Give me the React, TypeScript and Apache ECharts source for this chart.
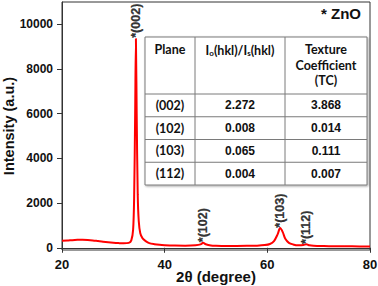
import React, { useEffect, useRef } from "react";
import * as echarts from "echarts";

// XRD pattern (2θ in degrees, intensity in a.u.)
const twoTheta = [
  20, 21, 22, 23, 24, 25, 26, 27, 28, 29, 30, 31, 32, 33, 33.5, 33.85, 34.05, 34.25, 34.4, 34.55,
  34.75, 34.95, 35.25, 35.7, 36.3, 37, 38, 39, 40, 42, 44, 46, 47, 47.5, 48, 49, 50, 52, 54, 56,
  58, 59.5, 60.5, 61.3, 62, 62.5, 63, 63.5, 64.2, 65, 66, 67, 67.6, 68.2, 69, 70, 72, 75, 78, 80,
];
const intensity = [
  310, 320, 340, 355, 360, 350, 330, 300, 270, 245, 225, 210, 200, 220, 330, 800, 2200, 6000, 9360, 6000,
  2400, 1200, 650, 420, 300, 210, 160, 130, 115, 100, 95, 110, 150, 220, 160, 105, 90, 80, 80, 85,
  95, 120, 170, 300, 600, 880, 700, 400, 220, 150, 110, 120, 160, 110, 85, 80, 70, 65, 62, 60,
];

// Peak annotations
const peakLabels = ["*(002)", "*(102)", "*(103)", "*(112)"];
const peakX = [34.4, 47.5, 62.5, 67.6];
const peakY = [9400, 250, 900, 170];

// Axis ticks
const yTicks = [0, 2000, 4000, 6000, 8000, 10000];

// Table
const tablePlanes = ["(002)", "(102)", "(103)", "(112)"];
const tableRatio = ["2.272", "0.008", "0.065", "0.004"];
const tableTC = ["3.868", "0.014", "0.111", "0.007"];

const NUM_FONT = 'bold 12px "Liberation Sans", Arial, sans-serif';
const HEAD_FONT = 'bold 12.5px Lato, "Open Sans", sans-serif';

function buildTable() {
  const left = 145;
  const top = 37;
  const c1 = 195;
  const c2 = 285;
  const right = 367;
  const headH = 57;
  const rowH = 22.75;
  const bottom = top + headH + rowH * tablePlanes.length;
  const stroke = "#7a7a7a";
  const els: any[] = [];
  els.push({
    type: "rect",
    shape: { x: left, y: top, width: right - left, height: bottom - top },
    style: { fill: "#fff", stroke, lineWidth: 1, shadowBlur: 2, shadowColor: "rgba(0,0,0,0.35)", shadowOffsetX: 1, shadowOffsetY: 1 },
    z: 10,
  });
  [c1, c2].forEach((x) =>
    els.push({ type: "line", shape: { x1: x, y1: top, x2: x, y2: bottom }, style: { stroke, lineWidth: 1 }, z: 11 })
  );
  for (let i = 0; i < tablePlanes.length; i++) {
    const y = top + headH + rowH * i;
    els.push({ type: "line", shape: { x1: left, y1: y, x2: right, y2: y }, style: { stroke, lineWidth: 1 }, z: 11 });
  }
  const txt = (text: string, x: number, y: number, font: string) => ({
    type: "text",
    z: 12,
    style: { text, x, y, align: "center", verticalAlign: "middle", font, fill: "#111" },
  });
  els.push(txt("Plane", (left + c1) / 2, 49, HEAD_FONT));
  els.push({
    type: "text",
    z: 12,
    style: {
      text: "{n|I}{s|o}{n|(hkl)/I}{s|s}{n|(hkl)}",
      x: (c1 + c2) / 2,
      y: 49,
      align: "center",
      verticalAlign: "middle",
      fill: "#111",
      rich: {
        n: { font: HEAD_FONT, lineHeight: 16, verticalAlign: "bottom", fill: "#111" },
        s: { font: 'bold 8px Lato, "Open Sans", sans-serif', lineHeight: 9, verticalAlign: "bottom", fill: "#111" },
      },
    },
  });
  els.push(txt("Texture", (c2 + right) / 2, 49, HEAD_FONT));
  els.push(txt("Coefficient", (c2 + right) / 2, 65, HEAD_FONT));
  els.push(txt("(TC)", (c2 + right) / 2, 80, HEAD_FONT));
  for (let i = 0; i < tablePlanes.length; i++) {
    const cy = top + headH + rowH * i + rowH / 2;
    els.push(txt(tablePlanes[i], (left + c1) / 2, cy, HEAD_FONT));
    els.push(txt(tableRatio[i], (c1 + c2) / 2, cy, NUM_FONT));
    els.push(txt(tableTC[i], (c2 + right) / 2, cy, NUM_FONT));
  }
  els.push({
    type: "text",
    z: 12,
    style: { text: "* ZnO", x: 361, y: 13, align: "right", verticalAlign: "middle", font: 'bold 15px "Liberation Sans", Arial, sans-serif', fill: "#111" },
  });
  return els;
}

export default function App() {
  const ref = useRef<HTMLDivElement>(null);
  useEffect(() => {
    if (!ref.current) return;
    const chart = echarts.init(ref.current, undefined, { renderer: "svg" });
    const axisFont = { fontFamily: '"Liberation Sans", Arial, sans-serif', fontWeight: "bold" as const, color: "#111" };
    chart.setOption({
      animation: false,
      grid: {
        left: 62,
        right: 8,
        top: 2,
        bottom: 36,
        show: true,
        borderColor: "#333",
        borderWidth: 1,
        backgroundColor: "transparent",
        containLabel: false,
        outerBoundsMode: "none",
      },
      xAxis: {
        type: "value",
        min: 20,
        max: 80,
        interval: 20,
        name: "2θ (degree)",
        nameLocation: "middle",
        nameGap: 19,
        nameMoveOverlap: false,
        nameTextStyle: { ...axisFont, fontSize: 15 },
        axisLine: { lineStyle: { color: "#333", width: 1 } },
        axisTick: { length: 5, lineStyle: { color: "#333" } },
        axisLabel: { ...axisFont, fontSize: 13, margin: 8 },
        splitLine: { show: false },
      },
      yAxis: {
        type: "value",
        min: -100,
        max: 11000,
        name: "Intensity (a.u.)",
        nameLocation: "middle",
        nameGap: 46,
        nameMoveOverlap: false,
        nameTextStyle: { ...axisFont, fontSize: 14.5 },
        axisLine: { show: true, lineStyle: { color: "#333", width: 1 } },
        axisTick: { show: true, length: 5, customValues: yTicks, lineStyle: { color: "#333" } },
        axisLabel: { ...axisFont, fontSize: 12, margin: 9, customValues: yTicks, formatter: (v: number) => String(v) },
        splitLine: { show: false },
      },
      series: [
        {
          type: "line",
          data: twoTheta.map((x, i) => [x, intensity[i]]),
          showSymbol: false,
          smooth: 0.3,
          lineStyle: { color: "#ff0000", width: 2 },
          z: 2,
        },
        {
          type: "scatter",
          data: peakX.map((x, i) => ({ value: [x, peakY[i]], name: peakLabels[i] })),
          symbolSize: 0,
          silent: true,
          label: {
            show: true,
            formatter: (p: any) => p.name,
            position: "top",
            distance: 0,
            rotate: 90,
            align: "left",
            verticalAlign: "middle",
            fontFamily: '"Liberation Sans", Arial, sans-serif',
            fontWeight: "bold",
            fontSize: 12.5,
            color: "#000",
            textBorderColor: "#000",
            textBorderWidth: 0.3,
          },
          z: 3,
        },
      ],
      graphic: buildTable(),
    });
    return () => chart.dispose();
  }, []);
  return <div ref={ref} style={{ width: 378, height: 286, position: "absolute", left: 0, top: 0 }} />;
}
